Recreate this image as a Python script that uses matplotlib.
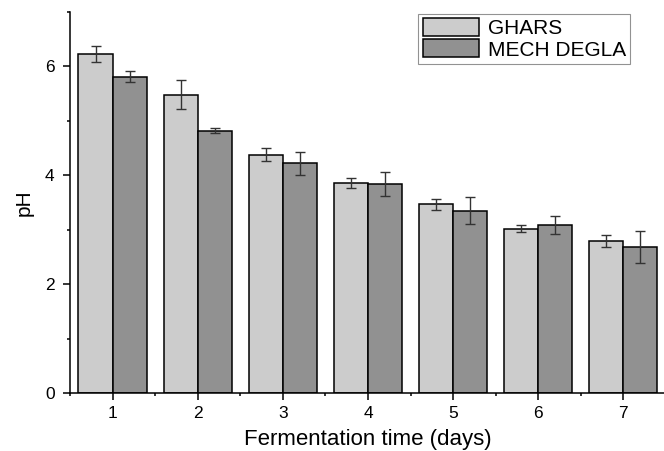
import matplotlib
matplotlib.use("Agg")
import matplotlib.pyplot as plt
import numpy as np
from matplotlib.ticker import MultipleLocator

plt.rcParams["font.family"] = ["Liberation Sans", "DejaVu Sans"]

# fermentation days and pH readings (mean +/- sd)
days = [1, 2, 3, 4, 5, 6, 7]
ghars = [6.23, 5.48, 4.38, 3.86, 3.47, 3.02, 2.80]
ghars_err = [0.15, 0.27, 0.12, 0.09, 0.10, 0.06, 0.11]
mech_degla = [5.81, 4.82, 4.22, 3.84, 3.35, 3.09, 2.68]
mech_degla_err = [0.10, 0.05, 0.21, 0.22, 0.25, 0.17, 0.29]

x = np.array(days, dtype=float)
w = 0.4

fig = plt.figure(figsize=(6.64, 4.51), dpi=100)
ax = fig.add_axes([0.1054, 0.128, 0.8976, 0.846])

err_kw = dict(ecolor="#333333", elinewidth=1.0, capsize=3.3, capthick=1.0)
ax.bar(x - w / 2, ghars, w, yerr=ghars_err, color="#cccccc",
       edgecolor="black", linewidth=1.1, label="GHARS", error_kw=err_kw)
ax.bar(x + w / 2, mech_degla, w, yerr=mech_degla_err, color="#919191",
       edgecolor="black", linewidth=1.1, label="MECH DEGLA", error_kw=err_kw)

ax.set_xlim(0.5, 7.5)
ax.set_ylim(0, 7)
ax.set_xticks(days)
ax.set_yticks([0, 2, 4, 6])
ax.xaxis.set_minor_locator(MultipleLocator(0.5))
ax.yaxis.set_minor_locator(MultipleLocator(1))
ax.tick_params(which="major", direction="out", length=5, width=1.1,
               labelsize=12.5, pad=4)
ax.tick_params(axis="y", which="major", pad=6)
ax.tick_params(which="minor", direction="out", length=2.5, width=1.1)

for side in ("top", "right"):
    ax.spines[side].set_visible(False)
for side in ("left", "bottom"):
    ax.spines[side].set_linewidth(1.1)

ax.set_xlabel("Fermentation time (days)", fontsize=16, labelpad=6)
ax.set_ylabel("pH", fontsize=15, labelpad=8)

leg = ax.legend(loc="upper right", bbox_to_anchor=(0.94, 0.995), fontsize=15,
                frameon=True, fancybox=False, handlelength=2.7, handleheight=0.95,
                handletextpad=0.4, borderpad=0.22, labelspacing=0.05,
                borderaxespad=0)
leg.get_frame().set_edgecolor("#777777")
leg.get_frame().set_linewidth(0.8)

fig.savefig("out.png", dpi=100)
